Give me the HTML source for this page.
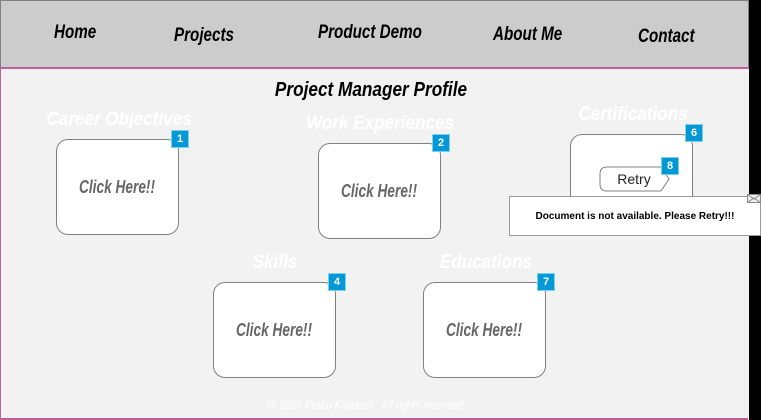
<!DOCTYPE html>
<html><head><style>
body{margin:0;width:761px;height:420px;overflow:hidden;background:#f2f2f2;position:relative;font-family:"Liberation Sans",sans-serif}
.a{position:absolute}
.hdr{left:0;top:0;width:747px;height:66px;background:#ccc;border:1px solid #808080;border-bottom:2px solid #c0609a}
.nav{top:22px;font-size:19px;font-weight:bold;font-style:italic;color:#000;transform:scaleX(.8);transform-origin:left}
.body{left:0;top:68px;width:747px;height:350px;border-left:1px solid #c0609a;border-bottom:2px solid #c0609a}
.lab{font-size:19px;font-weight:bold;font-style:italic;color:#fff;text-align:center;width:200px;transform:scaleX(.9)}
.box{width:121px;height:94px;background:#fff;border:1px solid #808080;border-radius:12px;display:flex;align-items:center;justify-content:center;font-size:18px;font-weight:bold;font-style:italic;color:#666}
.box span{display:inline-block;transform:scaleX(.76)}
.bd{width:16px;height:16px;background:#0099d6;color:#fff;font:bold 11px "Liberation Sans",sans-serif;text-align:center;line-height:16px;box-shadow:0 0 0 1px #7fd0ee}
</style></head><body>
<div class="a hdr"></div>
<div class="a nav" style="left:54px">Home</div>
<div class="a nav" style="left:174px;top:25px">Projects</div>
<div class="a nav" style="left:318px">Product Demo</div>
<div class="a nav" style="left:493px;top:24px">About Me</div>
<div class="a nav" style="left:638px;top:26px">Contact</div>
<div class="a body"></div>
<div class="a" style="left:749px;top:0;width:12px;height:420px;background:#000"></div>
<div class="a" style="left:0;top:79px;width:742px;text-align:center;font-size:20px;font-weight:bold;font-style:italic;transform:scaleX(.86)">Project Manager Profile</div>

<div class="a lab" style="left:19px;top:109px">Career Objectives</div>
<div class="a box" style="left:56px;top:139px"><span>Click Here!!</span></div>
<div class="a bd" style="left:172px;top:131px">1</div>

<div class="a lab" style="left:280px;top:113px">Work Experiences</div>
<div class="a box" style="left:318px;top:143px"><span>Click Here!!</span></div>
<div class="a bd" style="left:433px;top:135px">2</div>

<div class="a lab" style="left:533px;top:104px">Certifications</div>
<div class="a box" style="left:570px;top:134px;height:80px"></div>
<div class="a bd" style="left:686px;top:125px">6</div>
<svg class="a" style="left:599px;top:166px" width="72" height="27"><path d="M8 1H62L70 13L62 25H8Q1 25 1 18V8Q1 1 8 1Z" fill="#fff" stroke="#808080"/><text x="35" y="18" text-anchor="middle" font-family="Liberation Sans,sans-serif" font-size="14" fill="#222">Retry</text></svg>
<div class="a bd" style="left:662px;top:158px">8</div>

<div class="a" style="left:509px;top:196px;width:252px;height:40px;background:#fff;border:1px solid #999;box-sizing:border-box;font:bold 10px 'Liberation Sans',sans-serif;text-align:center;line-height:40px;color:#000">Document is not available. Please Retry!!!</div>
<svg class="a" style="left:747px;top:194px" width="14" height="10"><rect x=".5" y=".5" width="13" height="8" fill="#eee" stroke="#888"/><path d="M.5 .5L7 5L13.5 .5M.5 8.5L7 4L13.5 8.5" fill="none" stroke="#888"/></svg>

<div class="a lab" style="left:175px;top:252px">Skills</div>
<div class="a box" style="left:213px;top:282px"><span>Click Here!!</span></div>
<div class="a bd" style="left:329px;top:274px">4</div>

<div class="a lab" style="left:386px;top:252px">Educations</div>
<div class="a box" style="left:423px;top:282px"><span>Click Here!!</span></div>
<div class="a bd" style="left:538px;top:274px">7</div>

<div class="a" style="left:0;top:398px;width:732px;text-align:center;font-size:12px;font-style:italic;color:#fff;transform:scaleX(.85)">@ 2025 Prabu Kalidoss . All rights reserved.</div>
</body></html>
